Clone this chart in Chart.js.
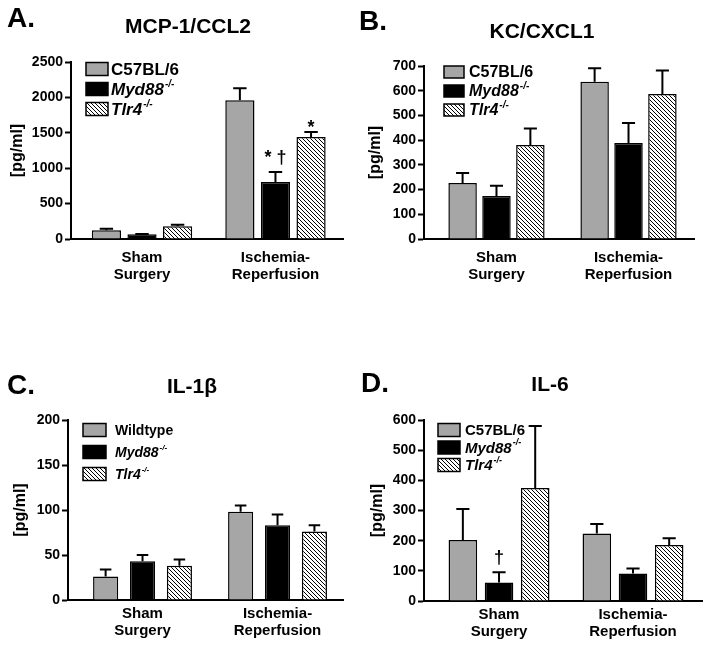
<!DOCTYPE html>
<html>
<head>
<meta charset="utf-8">
<script src="https://cdn.jsdelivr.net/npm/chart.js@4.4.1/dist/chart.umd.min.js"></script>
<style>
  body { margin: 0; background: #fff; font-family: "Liberation Sans", Arial, sans-serif; }
  #fig { position: relative; width: 709px; height: 645px; overflow: hidden; background: #fff; }
  canvas, .lbl { position: absolute; }
  .lbl { font-weight: bold; line-height: 1; white-space: nowrap; color: #000; }
  .letter { font-size: 28px; }
  .title { font-size: 21px; transform: translateX(-50%); }
</style>
</head>
<body>
<div id="fig">
  <canvas id="chartA" width="354" height="320" style="left:0;top:0"></canvas>
  <canvas id="chartB" width="355" height="320" style="left:354px;top:0"></canvas>
  <canvas id="chartC" width="354" height="325" style="left:0;top:320px"></canvas>
  <canvas id="chartD" width="355" height="325" style="left:354px;top:320px"></canvas>

  <div class="lbl letter" style="left:7px;top:4px">A.</div>
  <div class="lbl letter" style="left:359px;top:7px">B.</div>
  <div class="lbl letter" style="left:7px;top:371px">C.</div>
  <div class="lbl letter" style="left:361px;top:369px">D.</div>

  <div class="lbl title" style="left:188px;top:15px">MCP-1/CCL2</div>
  <div class="lbl title" style="left:542px;top:20px">KC/CXCL1</div>
  <div class="lbl title" style="left:192px;top:375px">IL-1β</div>
  <div class="lbl title" style="left:550px;top:373px">IL-6</div>
</div>

<script>
// groups on the x axis, shared by all four panels
const groups = [['Sham', 'Surgery'], ['Ischemia-', 'Reperfusion']];
const namesABD = ['C57BL/6', 'Myd88-/-', 'Tlr4-/-'];
const namesC = ['Wildtype', 'Myd88-/-', 'Tlr4-/-'];

// A. MCP-1/CCL2 (mean, SEM)
const mcpWt = [125, 1960];
const mcpWtSem = [20, 170];
const mcpMyd = [66, 805];
const mcpMydSem = [6, 140];
const mcpTlr = [180, 1440];
const mcpTlrSem = [20, 70];
const mcpMarks = [['', ''], ['', '* †'], ['', '*']];

// B. KC/CXCL1
const kcWt = [227, 636];
const kcWtSem = [40, 55];
const kcMyd = [174, 388];
const kcMydSem = [41, 81];
const kcTlr = [380, 587];
const kcTlrSem = [67, 95];

// C. IL-1beta
const il1Wt = [26, 98];
const il1WtSem = [8, 7];
const il1Myd = [43, 83];
const il1MydSem = [7, 12];
const il1Tlr = [38, 76];
const il1TlrSem = [7, 7];

// D. IL-6
const il6Wt = [202, 224];
const il6WtSem = [103, 31];
const il6Myd = [61, 91];
const il6MydSem = [34, 17];
const il6Tlr = [375, 186];
const il6TlrSem = [205, 22];
const il6Marks = [['', ''], ['†', ''], ['', '']];

const noMarks = [['', ''], ['', ''], ['', '']];

const FONT = '"Liberation Sans", Arial, sans-serif';
Chart.defaults.font.family = FONT;
Chart.defaults.font.weight = 'bold';
Chart.defaults.color = '#000';

function hatch() {
    const c = document.createElement('canvas');
    c.width = 4; c.height = 4;
    const g = c.getContext('2d');
    g.fillStyle = '#fff';
    g.fillRect(0, 0, 4, 4);
    g.strokeStyle = '#000';
    g.lineWidth = 1;
    g.beginPath();
    g.moveTo(-1, -1); g.lineTo(5, 5);
    g.moveTo(-1, 3); g.lineTo(1, 5);
    g.moveTo(3, -1); g.lineTo(5, 1);
    g.stroke();
    return g.createPattern(c, 'repeat');
}

// error bars, significance marks and the boxed legend
const extras = {
    id: 'extras',
    afterDatasetsDraw(chart, args, opts) {
        const ctx = chart.ctx;
        const y = chart.scales.y;
        const area = chart.chartArea;
        ctx.save();

        chart.data.datasets.forEach((ds, i) => {
            const meta = chart.getDatasetMeta(i);
            meta.data.forEach((bar, j) => {
                const top = y.getPixelForValue(meta.controller.getParsed(j).y + ds.sem[j]);
                const half = bar.width * 0.23;
                ctx.strokeStyle = '#000';
                ctx.lineWidth = 2;
                ctx.beginPath();
                ctx.moveTo(bar.x, bar.y);
                ctx.lineTo(bar.x, top);
                ctx.moveTo(bar.x - half, top);
                ctx.lineTo(bar.x + half, top);
                ctx.stroke();

                const mark = ds.marks[j];
                if (mark) {
                    ctx.fillStyle = '#000';
                    ctx.font = `bold 18px ${FONT}`;
                    ctx.textAlign = 'center';
                    ctx.textBaseline = 'alphabetic';
                    ctx.fillText(mark, bar.x, mark.includes('†') ? top - 9 : top + 1);
                }
            });
        });

        const lg = opts;
        chart.data.datasets.forEach((ds, i) => {
            const cy = area.top + lg.y + i * lg.gap;
            const bx = area.left + lg.x;
            ctx.fillStyle = ds.backgroundColor;
            ctx.fillRect(bx, cy - lg.h / 2, lg.w, lg.h);
            ctx.lineWidth = 1.5;
            ctx.strokeStyle = '#000';
            ctx.strokeRect(bx, cy - lg.h / 2, lg.w, lg.h);

            const m = ds.label.match(/^(.*?)(-\/-)?$/);
            const tx = bx + lg.w + lg.pad;
            ctx.fillStyle = '#000';
            ctx.textAlign = 'left';
            ctx.textBaseline = 'middle';
            ctx.font = `${m[2] ? 'italic ' : ''}bold ${lg.size}px ${FONT}`;
            ctx.fillText(m[1], tx, cy + 1);
            if (m[2]) {
                const w = ctx.measureText(m[1]).width;
                ctx.font = `italic bold ${Math.round(lg.size * 0.6)}px ${FONT}`;
                ctx.fillText(m[2], tx + w + 1, cy - lg.size * 0.3);
            }
        });
        ctx.restore();
    }
};

function makeChart(id, p) {
    const fills = ['#a6a6a6', '#000000', hatch()];
    const ctx = document.getElementById(id).getContext('2d');
    return new Chart(ctx, {
        type: 'bar',
        data: {
            datasets: p.series.map((s, i) => ({
                label: p.names[i],
                data: s.map((v, k) => ({ x: k, y: v })),
                sem: p.sems[i],
                marks: p.marks[i],
                backgroundColor: fills[i],
                borderColor: '#000',
                borderWidth: 1.5,
                categoryPercentage: p.cat,
                barPercentage: p.bar
            }))
        },
        options: {
            responsive: false,
            animation: false,
            layout: { padding: p.pad },
            plugins: {
                legend: { display: false },
                tooltip: { enabled: false },
                extras: p.legend
            },
            scales: {
                x: {
                    type: 'linear',
                    min: p.xmin,
                    max: p.xmax,
                    offset: false,
                    afterBuildTicks: s => { s.ticks = groups.map((g, k) => ({ value: k })); },
                    grid: { display: true, drawOnChartArea: false, drawTicks: false },
                    border: { color: '#000', width: 2 },
                    ticks: {
                        font: { size: 15, weight: 'bold', lineHeight: 1.15 },
                        padding: p.xpad,
                        color: '#000',
                        maxRotation: 0,
                        autoSkip: false,
                        callback: v => groups[v] || ''
                    },
                    afterFit: s => { s.height = p.xh; }
                },
                y: {
                    min: 0,
                    max: p.max,
                    ticks: {
                        stepSize: p.step,
                        font: { size: 14, weight: 'bold' },
                        padding: 2,
                        color: '#000',
                        callback: v => String(v)
                    },
                    grid: { drawOnChartArea: false, drawTicks: true, tickLength: 6, tickWidth: 2, tickColor: '#000' },
                    border: { color: '#000', width: 2 },
                    title: {
                        display: true,
                        text: '[pg/ml]',
                        font: { size: 16, weight: 'bold' },
                        color: '#000',
                        padding: { top: p.tpad, bottom: 0 }
                    },
                    afterFit: s => { s.width = p.yw; }
                }
            }
        },
        plugins: [extras]
    });
}

makeChart('chartA', {
    names: namesABD,
    series: [mcpWt, mcpMyd, mcpTlr],
    sems: [mcpWtSem, mcpMydSem, mcpTlrSem],
    marks: mcpMarks,
    max: 2500, step: 500,
    xmin: -0.532, xmax: 1.506,
    pad: { top: 62, right: 11, bottom: 0, left: 0 },
    yw: 71, xh: 81, xpad: 10, tpad: 8,
    cat: 0.80, bar: 0.82,
    legend: { x: 15, y: 7, gap: 20, w: 22, h: 13, size: 17, pad: 3 }
});

makeChart('chartB', {
    names: namesABD,
    series: [kcWt, kcMyd, kcTlr],
    sems: [kcWtSem, kcMydSem, kcTlrSem],
    marks: noMarks,
    max: 700, step: 100,
    xmin: -0.549, xmax: 1.496,
    pad: { top: 66, right: 15, bottom: 0, left: 0 },
    yw: 70, xh: 81, xpad: 10, tpad: 12,
    cat: 0.77, bar: 0.84,
    legend: { x: 20, y: 6, gap: 19, w: 20, h: 12, size: 16, pad: 5 }
});

makeChart('chartC', {
    names: namesC,
    series: [il1Wt, il1Myd, il1Tlr],
    sems: [il1WtSem, il1MydSem, il1TlrSem],
    marks: noMarks,
    max: 200, step: 50,
    xmin: -0.552, xmax: 1.485,
    pad: { top: 100, right: 11, bottom: 0, left: 0 },
    yw: 68, xh: 45, xpad: 5, tpad: 11,
    cat: 0.82, bar: 0.68,
    legend: { x: 15, y: 10, gap: 22, w: 23, h: 13, size: 14, pad: 9 }
});

makeChart('chartD', {
    names: namesABD,
    series: [il6Wt, il6Myd, il6Tlr],
    sems: [il6WtSem, il6MydSem, il6TlrSem],
    marks: il6Marks,
    max: 600, step: 100,
    xmin: -0.56, xmax: 1.515,
    pad: { top: 100, right: 7, bottom: 0, left: 0 },
    yw: 70, xh: 44, xpad: 5, tpad: 14,
    cat: 0.81, bar: 0.79,
    legend: { x: 14, y: 10, gap: 17.5, w: 22, h: 13, size: 15, pad: 5 }
});
</script>
</body>
</html>
